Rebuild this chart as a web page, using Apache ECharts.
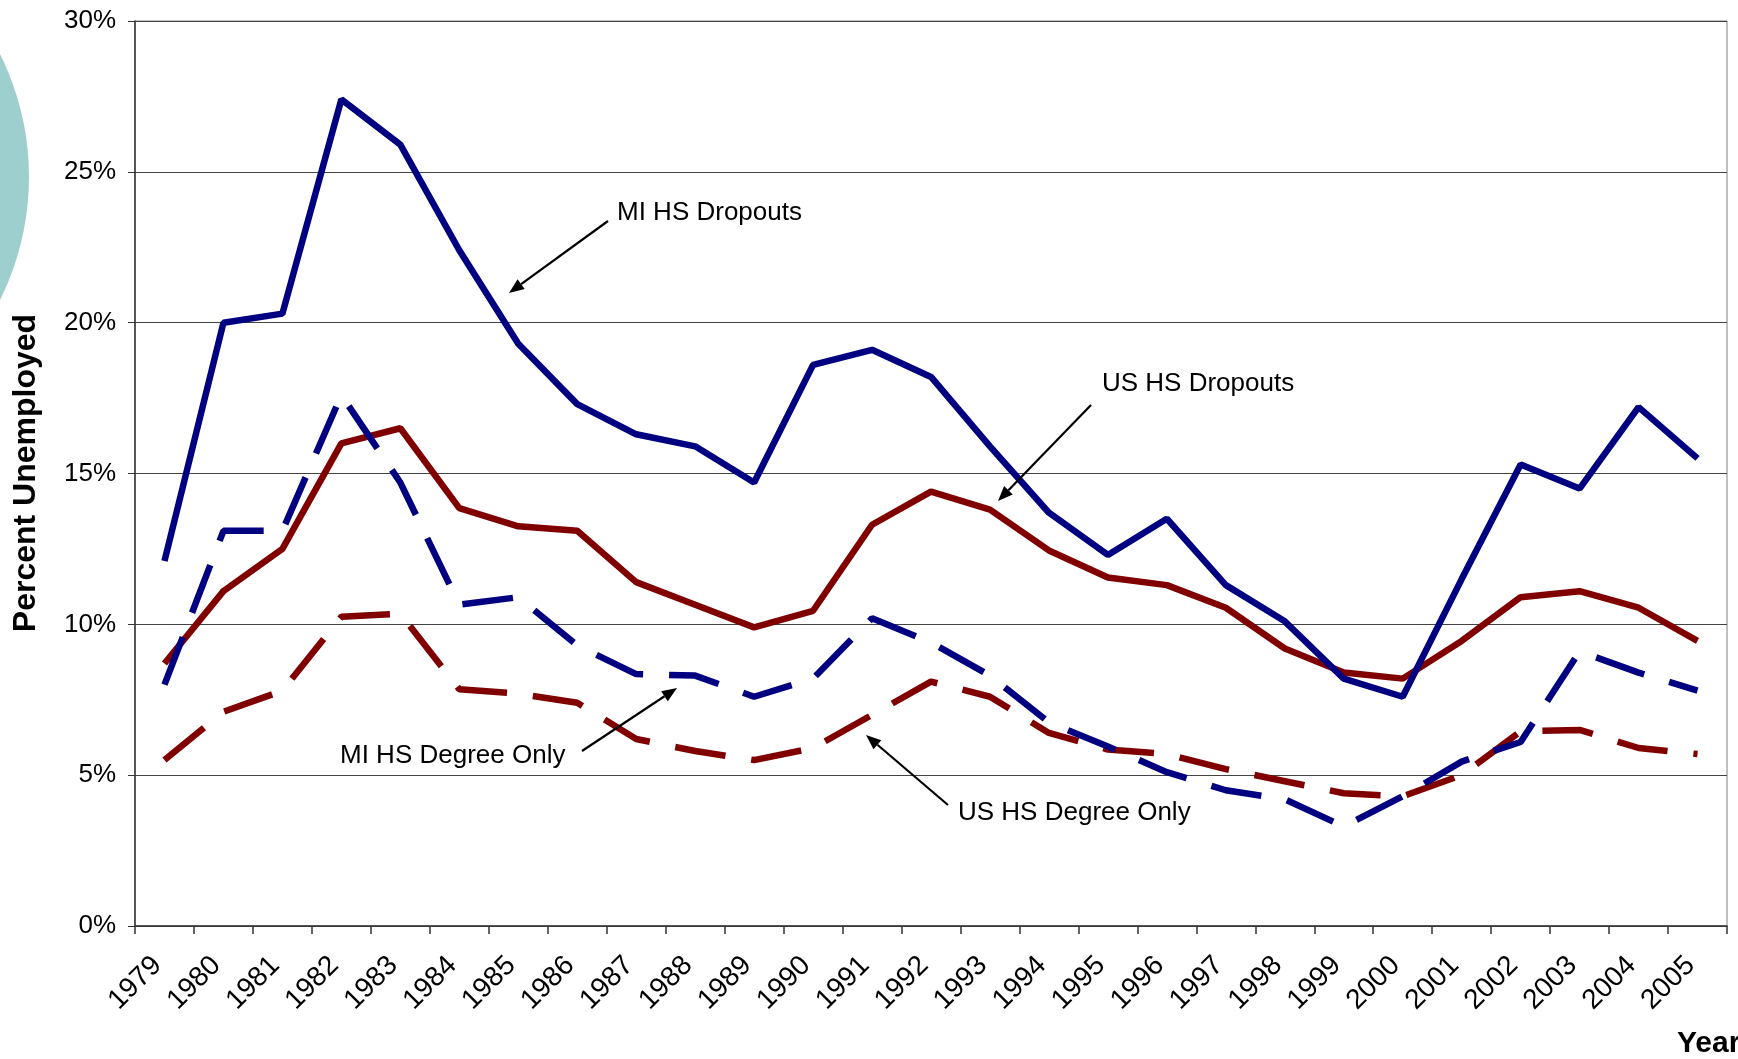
<!DOCTYPE html>
<html>
<head>
<meta charset="utf-8">
<script src="https://cdn.jsdelivr.net/npm/echarts@6/dist/echarts.min.js"></script>
<style>
html,body{margin:0;padding:0;background:#fff;}
#chart{width:1738px;height:1059px;}
</style>
</head>
<body>
<div id="chart"></div>
<script>
const years = ['1979','1980','1981','1982','1983','1984','1985','1986','1987','1988','1989','1990','1991','1992','1993','1994','1995','1996','1997','1998','1999','2000','2001','2002','2003','2004','2005'];
const miDropouts = [12.1,20.0,20.3,27.4,25.9,22.4,19.3,17.3,16.3,15.9,14.7,18.6,19.1,18.2,15.9,13.7,12.3,13.5,11.3,10.1,8.2,7.6,11.5,15.3,14.5,17.2,15.5];
const usDropouts = [8.7,11.1,12.5,16.0,16.5,13.85,13.25,13.1,11.4,10.65,9.9,10.45,13.3,14.4,13.8,12.45,11.55,11.3,10.55,9.2,8.4,8.2,9.45,10.9,11.1,10.55,9.45];
const miDegree = [8.0,13.1,13.1,17.6,14.7,10.65,10.9,9.3,8.35,8.3,7.6,8.2,10.2,9.4,8.3,6.75,5.95,5.1,4.5,4.2,3.3,4.3,5.45,6.1,9.1,8.4,7.8];
const usDegree = [5.5,7.1,7.8,10.25,10.35,7.85,7.7,7.4,6.2,5.8,5.5,5.9,7.0,8.1,7.6,6.4,5.85,5.7,5.2,4.8,4.4,4.3,5.0,6.45,6.5,5.9,5.7];
const yMin = 0, yMax = 30, yStep = 5;

const NAVY = '#000080', MAROON = '#800000';
const FONT = '"Liberation Sans", Arial, sans-serif';

// annotation layout (pixels)
const notes = [
  {text:'MI HS Dropouts', tx:617, ty:213, from:[608,221], to:[509,293]},
  {text:'US HS Dropouts', tx:1102, ty:384, from:[1091,405], to:[998,501]},
  {text:'MI HS Degree Only', tx:340, ty:756, from:[582,751], to:[677,688]},
  {text:'US HS Degree Only', tx:958, ty:813, from:[948,805], to:[866,735]}
];

function arrowGraphic(n){
  const [x1,y1] = n.from, [x2,y2] = n.to;
  const ang = Math.atan2(y2-y1, x2-x1);
  const L = 15, W = 6;
  const bx = x2 - L*Math.cos(ang), by = y2 - L*Math.sin(ang);
  const px = -Math.sin(ang)*W, py = Math.cos(ang)*W;
  return [
    {type:'line', shape:{x1:x1,y1:y1,x2:bx,y2:by}, style:{stroke:'#000',lineWidth:2.2}, z:20},
    {type:'polygon', shape:{points:[[x2,y2],[bx+px,by+py],[bx-px,by-py]]}, style:{fill:'#000'}, z:20},
    {type:'text', x:n.tx, y:n.ty, style:{text:n.text, font:'26px '+FONT, fill:'#000', align:'left', verticalAlign:'middle'}, z:20}
  ];
}

const graphics = [
  {type:'circle', shape:{cx:-246, cy:177, r:275}, style:{fill:'#9ECFCF'}, z:-10},
  {type:'text', x:26, y:473, rotation:Math.PI/2, style:{text:'Percent Unemployed', font:'bold 32px '+FONT, fill:'#000', align:'center', verticalAlign:'middle'}, z:20},
  {type:'text', x:1677, y:1044, style:{text:'Year', font:'bold 30px '+FONT, fill:'#000', align:'left', verticalAlign:'middle'}, z:20}
];
notes.forEach(n => arrowGraphic(n).forEach(g => graphics.push(g)));

function lineSeries(name, data, color, dashed, z){
  return {
    name:name, type:'line', data:data, symbol:'none', z:z,
    lineStyle:{color:color, width:6.5, type: dashed ? [51,26] : 'solid', cap:'butt', join:'bevel'},
    animation:false
  };
}

const chart = echarts.init(document.getElementById('chart'), null, {renderer:'canvas'});
chart.setOption({
  animation:false,
  backgroundColor:'#fff',
  grid:{left:135, right:11, top:21, bottom:133, show:true, borderColor:'#808080', borderWidth:1, containLabel:false},
  xAxis:{
    type:'category', data:years, boundaryGap:true,
    axisLine:{show:true, lineStyle:{color:'#333', width:1.5}},
    axisTick:{show:true, length:8, alignWithLabel:false, interval:0, lineStyle:{color:'#333', width:1.5}},
    axisLabel:{interval:0, rotate:45, margin:28, padding:[0,10,0,0], color:'#000', fontFamily:FONT, fontSize:28},
    splitLine:{show:false}
  },
  yAxis:{
    type:'value', min:yMin, max:yMax, interval:yStep,
    axisLine:{show:true, lineStyle:{color:'#333', width:1.5}},
    axisTick:{show:true, length:7, lineStyle:{color:'#333'}},
    axisLabel:{formatter:'{value}%', margin:19, color:'#000', fontFamily:FONT, fontSize:26},
    splitLine:{show:true, lineStyle:{color:'#444', width:1}}
  },
  series:[
    lineSeries('US HS Dropouts', usDropouts, MAROON, false, 2),
    lineSeries('US HS Degree Only', usDegree, MAROON, true, 3),
    lineSeries('MI HS Dropouts', miDropouts, NAVY, false, 4),
    lineSeries('MI HS Degree Only', miDegree, NAVY, true, 5)
  ],
  graphic:graphics
});
</script>
</body>
</html>
